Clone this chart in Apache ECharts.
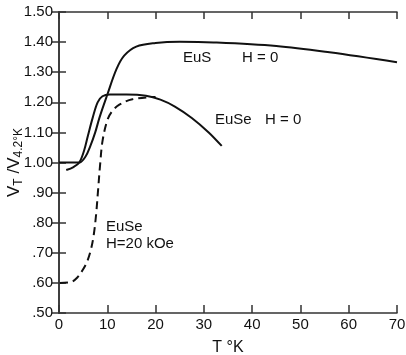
<!DOCTYPE html>
<html>
<head>
<meta charset="utf-8">
<script src="https://cdn.jsdelivr.net/npm/echarts@6/dist/echarts.min.js"></script>
<style>
  html, body { margin: 0; padding: 0; background: #fff; }
  #chart { width: 406px; height: 355px; }
</style>
</head>
<body>
<div id="chart"></div>
<script>
// [T (K), V_T / V_4.2K]
const eusH0 = [
  [0, 1.0], [3, 1.0], [4.2, 1.0], [5.5, 1.02], [6.5, 1.055], [7.5, 1.1],
  [8.4, 1.15], [10, 1.225], [11.9, 1.31], [13.5, 1.355],
  [16, 1.385], [20, 1.397], [25, 1.401], [32, 1.399],
  [45, 1.387], [56, 1.366], [70, 1.333]
];
const euseH0 = [
  [1.5, 0.975], [3, 0.985], [4.2, 1.0], [5.2, 1.04],
  [6, 1.09], [7, 1.15], [8, 1.2], [9, 1.22], [10.5, 1.226], [14, 1.226],
  [18, 1.222], [21, 1.209], [24, 1.186], [27.5, 1.148],
  [31, 1.1], [33.7, 1.055]
];
const euseH20 = [
  [0.2, 0.6], [2.5, 0.603], [3.8, 0.618], [4.9, 0.643], [5.8, 0.67],
  [6.6, 0.71], [7.2, 0.76], [7.7, 0.83], [8.1, 0.91], [8.5, 0.99],
  [9, 1.07], [10, 1.14], [11, 1.17], [12.5, 1.192], [15.2, 1.21],
  [20, 1.218]
];
const xTicks = [0, 10, 20, 30, 40, 50, 60, 70];
const yTickLabel = v => (v >= 1 ? v.toFixed(2) : v.toFixed(2).slice(1));

const FONT = 'Liberation Sans';
const axisStyle = { lineStyle: { color: '#333', width: 1.5 } };
const chart = echarts.init(document.getElementById('chart'));

const line = (data, dashed) => ({
  type: 'line',
  data,
  smooth: 0.35,
  showSymbol: false,
  silent: true,
  lineStyle: { color: '#111', width: 2, type: dashed ? [8, 5] : 'solid' },
});

chart.setOption({
  animation: false,
  grid: { left: 59, right: 9, top: 12, bottom: 42, outerBoundsMode: 'none' },
  textStyle: { fontFamily: FONT },
  xAxis: [
    {
      type: 'value', min: xTicks[0], max: xTicks[xTicks.length - 1], interval: 10,
      name: 'T °K', nameLocation: 'middle', nameGap: 27, nameMoveOverlap: false,
      nameTextStyle: { fontSize: 16, color: '#111', fontFamily: FONT },
      axisLine: axisStyle,
      axisTick: { inside: true, length: 8, lineStyle: { color: '#333', width: 1.5 } },
      axisLabel: { fontSize: 15, color: '#111', margin: 4, fontFamily: FONT },
      splitLine: { show: false },
    },
    {
      type: 'value', position: 'top', min: 0, max: 70, interval: 10,
      axisLine: axisStyle,
      axisTick: { inside: true, length: 7, lineStyle: { color: '#333', width: 1.5 } },
      axisLabel: { show: false },
      splitLine: { show: false },
    },
  ],
  yAxis: [
    {
      type: 'value', min: 0.5, max: 1.5, interval: 0.1,
      name: '{a|V}{b|T}{a| /V}{b|4.2°K}', nameLocation: 'middle', nameGap: 34, nameRotate: 90,
      nameMoveOverlap: false,
      nameTextStyle: {
        rich: {
          a: { fontSize: 17, color: '#111', fontFamily: FONT, lineHeight: 22, verticalAlign: 'middle' },
          b: { fontSize: 12, color: '#111', fontFamily: FONT, lineHeight: 22, verticalAlign: 'bottom' },
        },
      },
      axisLine: { show: true, ...axisStyle },
      axisTick: { show: true, inside: true, length: 7, lineStyle: { color: '#333', width: 1.5 } },
      axisLabel: { fontSize: 15, color: '#111', margin: 6, fontFamily: FONT, formatter: yTickLabel },
      splitLine: { show: false },
    },
    {
      type: 'value', position: 'right', min: 0.5, max: 1.5, interval: 0.1,
      axisLine: { show: true, ...axisStyle },
      axisTick: { show: true, inside: true, length: 7, lineStyle: { color: '#333', width: 1.5 } },
      axisLabel: { show: false },
      splitLine: { show: false },
    },
  ],
  series: [line(eusH0, false), line(euseH0, false), line(euseH20, true)],
  graphic: [
    { type: 'text', left: 183, top: 50, style: { text: 'EuS', font: `15px "${FONT}"`, fill: '#111' } },
    { type: 'text', left: 242, top: 50, style: { text: 'H = 0', font: `15px "${FONT}"`, fill: '#111' } },
    { type: 'text', left: 215, top: 112, style: { text: 'EuSe', font: `15px "${FONT}"`, fill: '#111' } },
    { type: 'text', left: 265, top: 112, style: { text: 'H = 0', font: `15px "${FONT}"`, fill: '#111' } },
    { type: 'text', left: 106, top: 219, style: { text: 'EuSe', font: `15px "${FONT}"`, fill: '#111' } },
    { type: 'text', left: 106, top: 236, style: { text: 'H=20 kOe', font: `15px "${FONT}"`, fill: '#111' } },
  ],
});
</script>
</body>
</html>
